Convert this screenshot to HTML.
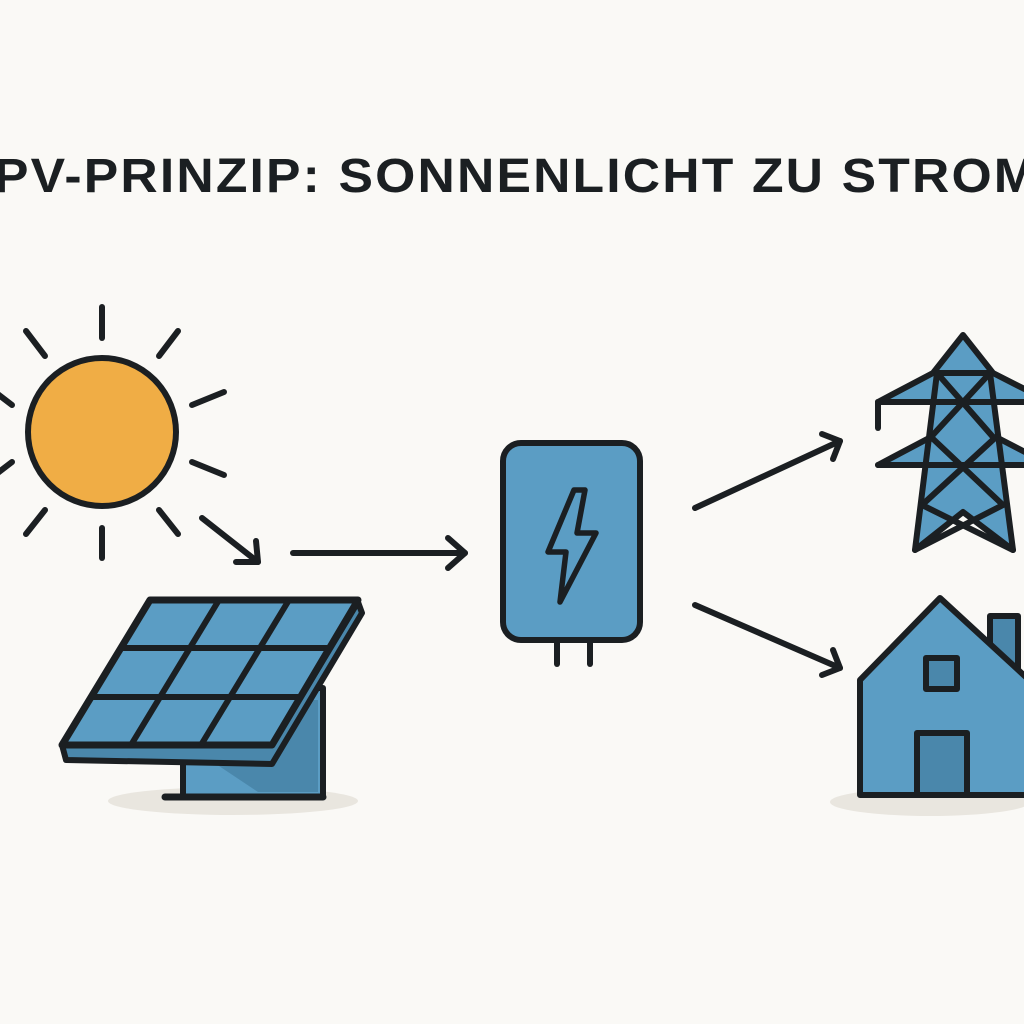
<!DOCTYPE html>
<html><head><meta charset="utf-8"><style>html,body{margin:0;padding:0;background:#faf9f6;}svg{display:block}</style></head>
<body>
<svg width="1024" height="1024" viewBox="0 0 1024 1024" xmlns="http://www.w3.org/2000/svg">
<rect width="1024" height="1024" fill="#faf9f6"/>
<text x="-6" y="192" font-family="Liberation Sans, sans-serif" font-weight="600" font-size="48" fill="#1b1f22" textLength="1045" lengthAdjust="spacingAndGlyphs" letter-spacing="2">PV-PRINZIP: SONNENLICHT ZU STROM</text>

<g stroke="#1b1f22" stroke-width="6" stroke-linecap="round" stroke-linejoin="round" fill="none">
 <line x1="102" y1="307" x2="102" y2="338"/>
 <line x1="102" y1="528" x2="102" y2="558"/>
 <line x1="26" y1="331" x2="45" y2="356"/>
 <line x1="178" y1="331" x2="159" y2="356"/>
 <line x1="45" y1="510" x2="26" y2="534"/>
 <line x1="159" y1="510" x2="178" y2="534"/>
 <line x1="192" y1="405" x2="224" y2="392"/>
 <line x1="192" y1="462" x2="224" y2="475"/>
 <line x1="-5" y1="392" x2="12" y2="405"/>
 <line x1="-5" y1="475" x2="12" y2="462"/>
</g>
<circle cx="102" cy="432" r="74" fill="#f0ad45" stroke="#1b1f22" stroke-width="6"/>

<g stroke="#1b1f22" stroke-width="6" stroke-linecap="round" stroke-linejoin="round" fill="none">
 <line x1="202" y1="518" x2="258" y2="562"/><polyline points="236,562 258,562 256,541"/>
 <line x1="293" y1="553" x2="465" y2="553"/><polyline points="448,538 465,553 448,568"/>
 <line x1="695" y1="508" x2="840" y2="441"/><polyline points="822,434 840,441 833,459"/>
 <line x1="695" y1="605" x2="840" y2="668"/><polyline points="833,650 840,668 822,675"/>
</g>

<ellipse cx="233" cy="801" rx="125" ry="14" fill="#e9e6df"/>
<rect x="183" y="688" width="140" height="109" fill="#5b9dc4" stroke="#1b1f22" stroke-width="6" stroke-linejoin="round"/>
<polygon points="210,760 300,700 318,700 318,792 258,792" fill="#4a87ab"/>
<line x1="165" y1="797" x2="323" y2="797" stroke="#1b1f22" stroke-width="7" stroke-linecap="round"/>
<polygon points="62,745 272,745 358,602 362,613 272,764 66,760" fill="#4a87ab" stroke="#1b1f22" stroke-width="6" stroke-linejoin="round"/>
<polygon points="150,600 358,600 272,745 62,745" fill="#5b9dc4" stroke="#1b1f22" stroke-width="7" stroke-linejoin="round"/>
<g stroke="#1b1f22" stroke-width="6">
 <line x1="219" y1="600" x2="131" y2="745"/>
 <line x1="289" y1="600" x2="201" y2="745"/>
 <line x1="121" y1="648" x2="329" y2="648"/>
 <line x1="91" y1="697" x2="300" y2="697"/>
</g>

<g stroke="#1b1f22" stroke-width="6" stroke-linecap="round">
 <line x1="557" y1="640" x2="557" y2="664"/><line x1="590" y1="640" x2="590" y2="664"/>
</g>
<rect x="503" y="443" width="137" height="197" rx="18" fill="#5b9dc4" stroke="#1b1f22" stroke-width="6"/>
<polygon points="574,490 548,552 566,552 560,602 596,533 577,533 585,490" fill="#5b9dc4" stroke="#1b1f22" stroke-width="5.5" stroke-linejoin="round"/>

<g stroke="#1b1f22" stroke-width="6" stroke-linejoin="round" stroke-linecap="round">
 <polygon points="878,402 933,373 963,335 993,373 1050,402" fill="#5b9dc4"/>
 <polygon points="878,465 931,437 996,437 1050,465" fill="#5b9dc4"/>
 <polygon points="937,373 990,373 1013,550 963,512 915,550" fill="#5b9dc4"/>
 <line x1="878" y1="402" x2="878" y2="428"/>
 <line x1="878" y1="402" x2="1030" y2="402"/>
 <line x1="878" y1="465" x2="1030" y2="465"/>
 <line x1="937" y1="373" x2="993" y2="437"/>
 <line x1="990" y1="373" x2="931" y2="437"/>
 <line x1="931" y1="437" x2="1003" y2="505"/>
 <line x1="996" y1="437" x2="922" y2="505"/>
 <line x1="922" y1="505" x2="1013" y2="550"/>
 <line x1="1003" y1="505" x2="915" y2="550"/>
 <line x1="937" y1="373" x2="990" y2="373"/>
</g>

<ellipse cx="930" cy="802" rx="100" ry="14" fill="#e9e6df"/>
<g stroke="#1b1f22" stroke-width="6" stroke-linejoin="round">
 <rect x="990" y="616" width="28" height="60" fill="#4a87ab"/>
 <polygon points="860,680 940,598 1040,690 1040,795 860,795" fill="#5b9dc4"/>
 <rect x="926" y="658" width="31" height="31" fill="#4a87ab"/>
 <rect x="917" y="733" width="50" height="62" fill="#4a87ab"/>
</g>
</svg>
</body></html>
